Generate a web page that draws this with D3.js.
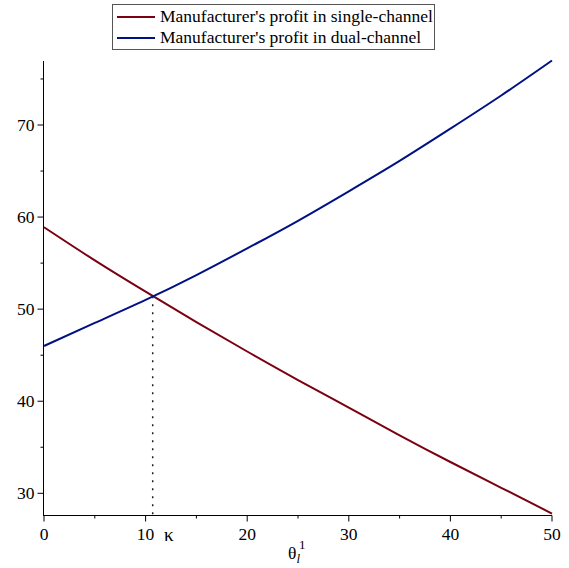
<!DOCTYPE html>
<html>
<head>
<meta charset="utf-8">
<script src="https://cdn.jsdelivr.net/npm/d3@7"></script>
<style>
  body { margin: 0; background: #fff; }
  svg { font-family: "Liberation Serif", "Times New Roman", serif; }
</style>
</head>
<body>
<svg id="svg" width="569" height="568"></svg>
<script>
const theta = [0, 5, 10, 15, 20, 25, 30, 35, 40, 45, 50];
const singleProfit = [58.9, 55.3, 51.9, 48.6, 45.4, 42.3, 39.3, 36.3, 33.4, 30.6, 27.8];
const dualProfit = [46.0, 48.5, 51.0, 53.7, 56.6, 59.6, 62.8, 66.1, 69.6, 73.2, 77.0];
const seriesNames = ["Manufacturer's profit in single-channel", "Manufacturer's profit in dual-channel"];
const seriesColors = ["#7b0011", "#001283"];
const kappa = { x: 10.7, y: 51.4 };
const xTicks = [0, 10, 20, 30, 40, 50];
const yTicks = [30, 40, 50, 60, 70];

const svg = d3.select('#svg');

const x = d3.scaleLinear().domain([0, 50]).range([44, 552]);
const y = d3.scaleLinear().domain([30, 70]).range([493.3, 125]);
const yBottom = 515.5, yTop = 61;

// axes
const xAxis = svg.append("g").attr("transform", `translate(0,${yBottom})`);
xAxis.append("line").attr("x1", x(0) - 1).attr("x2", x(50)).attr("stroke", "#000");
xAxis.selectAll(".minor").data(d3.range(5, 50, 10)).join("line")
    .attr("x1", d => x(d)).attr("x2", d => x(d)).attr("y1", 0).attr("y2", 3).attr("stroke", "#000");
xAxis.selectAll(".major").data(xTicks).join("line")
    .attr("x1", d => x(d)).attr("x2", d => x(d)).attr("y1", 0).attr("y2", 6).attr("stroke", "#000");
xAxis.selectAll("text").data(xTicks).join("text")
    .attr("x", d => x(d)).attr("y", 24).attr("text-anchor", "middle")
    .attr("font-size", 17.5).text(d => d);

const yAxis = svg.append("g").attr("transform", `translate(${x(0) - 0.5},0)`);
yAxis.append("line").attr("y1", yTop).attr("y2", yBottom).attr("stroke", "#000");
yAxis.selectAll(".minor").data(d3.range(35, 80, 10)).join("line")
    .attr("y1", d => y(d)).attr("y2", d => y(d)).attr("x1", 0).attr("x2", -3).attr("stroke", "#000");
yAxis.selectAll(".major").data(yTicks).join("line")
    .attr("y1", d => y(d)).attr("y2", d => y(d)).attr("x1", 0).attr("x2", -6).attr("stroke", "#000");
yAxis.selectAll("text").data(yTicks).join("text")
    .attr("x", -9).attr("y", d => y(d)).attr("dy", "0.33em").attr("text-anchor", "end")
    .attr("font-size", 17.5).text(d => d);

// dotted marker
svg.append("line")
    .attr("x1", x(kappa.x)).attr("x2", x(kappa.x))
    .attr("y1", y(kappa.y)).attr("y2", yBottom)
    .attr("stroke", "#222").attr("stroke-width", 1.5).attr("stroke-dasharray", "2,6");
svg.append("text").attr("x", x(kappa.x) + 16).attr("y", 541).attr("text-anchor", "middle")
    .attr("font-size", 19).text("κ");

// axis label
const lab = svg.append("text").attr("x", 288).attr("y", 559).attr("font-size", 17.5);
lab.append("tspan").text("θ");
lab.append("tspan").attr("font-style", "italic").attr("font-size", 13).attr("dy", 4).text("l");
lab.append("tspan").attr("font-size", 13).attr("dy", -14).attr("dx", -1).text("1");

// curves
const line = d3.line().x((d, i) => x(theta[i])).y(d => y(d)).curve(d3.curveNatural);
[singleProfit, dualProfit].forEach((s, i) => {
    svg.append("path").datum(s).attr("d", line)
        .attr("fill", "none").attr("stroke", seriesColors[i]).attr("stroke-width", 2);
});

// legend
const legend = svg.append("g");
legend.append("rect").attr("x", 112.5).attr("y", 4.5).attr("width", 322).attr("height", 45)
    .attr("fill", "#fff").attr("stroke", "#555");
seriesNames.forEach((n, i) => {
    const ly = 17 + i * 21;
    legend.append("line").attr("x1", 117).attr("x2", 155).attr("y1", ly).attr("y2", ly)
        .attr("stroke", seriesColors[i]).attr("stroke-width", 2);
    legend.append("text").attr("x", 160).attr("y", ly + 5).attr("font-size", 17.5).text(n);
});
</script>
</body>
</html>
